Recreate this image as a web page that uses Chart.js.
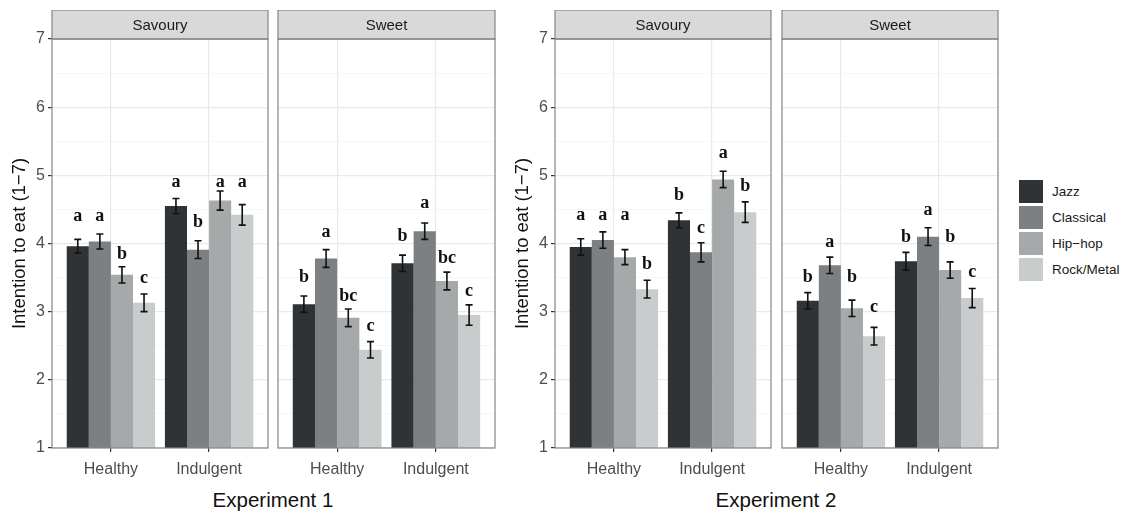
<!DOCTYPE html>
<html>
<head>
<meta charset="utf-8">
<script src="https://cdn.jsdelivr.net/npm/chart.js@4.4.1/dist/chart.umd.min.js"></script>
<style>
  body { margin: 0; background: #fff; width: 1125px; height: 516px; position: relative; overflow: hidden;
         font-family: "Liberation Sans", Arial, sans-serif; }
  canvas { position: absolute; }
  .exp { position: absolute; top: 490px; font-size: 20.5px; line-height: 1; color: #111;
         transform: translateX(-50%); white-space: nowrap; }
  .key { position: absolute; left: 1019px; display: flex; align-items: center; height: 23px; }
  .key span.box { width: 24px; height: 23px; display: inline-block; }
  .key span.txt { margin-left: 9px; font-size: 13.5px; color: #1a1a1a; white-space: nowrap; }
</style>
</head>
<body>
<canvas id="p1"></canvas>
<canvas id="p2"></canvas>
<canvas id="p3"></canvas>
<canvas id="p4"></canvas>
<div class="exp" style="left:273px">Experiment 1</div>
<div class="exp" style="left:776px">Experiment 2</div>
<div id="legend"></div>
<script>
const genres = ['Jazz', 'Classical', 'Hip\u2212hop', 'Rock/Metal'];
const genreColors = ['#2f3335', '#7c8082', '#a6a9aa', '#c8cccc'];
const foodTypes = ['Healthy', 'Indulgent'];
const yTicks = [1, 2, 3, 4, 5, 6, 7];
const yTitle = 'Intention to eat (1\u22127)';

// rows = genre, columns = Healthy / Indulgent
const exp1SavouryMeans = [[3.96, 4.55], [4.03, 3.91], [3.54, 4.63], [3.13, 4.42]];
const exp1SavourySE = [[0.10, 0.11], [0.11, 0.13], [0.12, 0.14], [0.13, 0.15]];
const exp1SavouryLetters = [['a', 'a'], ['a', 'b'], ['b', 'a'], ['c', 'a']];
const exp1SavouryLetterY = [[4.33, 4.83], [4.33, 4.24], [3.77, 4.83], [3.42, 4.83]];

const exp1SweetMeans = [[3.11, 3.71], [3.78, 4.18], [2.91, 3.45], [2.44, 2.95]];
const exp1SweetSE = [[0.12, 0.12], [0.13, 0.12], [0.13, 0.13], [0.12, 0.15]];
const exp1SweetLetters = [['b', 'b'], ['a', 'a'], ['bc', 'bc'], ['c', 'c']];
const exp1SweetLetterY = [[3.44, 4.04], [4.10, 4.52], [3.16, 3.71], [2.72, 3.23]];

const exp2SavouryMeans = [[3.95, 4.34], [4.05, 3.87], [3.80, 4.94], [3.33, 4.46]];
const exp2SavourySE = [[0.12, 0.11], [0.12, 0.14], [0.11, 0.12], [0.13, 0.15]];
const exp2SavouryLetters = [['a', 'b'], ['a', 'c'], ['a', 'a'], ['b', 'b']];
const exp2SavouryLetterY = [[4.34, 4.64], [4.34, 4.15], [4.34, 5.25], [3.63, 4.77]];

const exp2SweetMeans = [[3.16, 3.74], [3.68, 4.10], [3.05, 3.61], [2.64, 3.20]];
const exp2SweetSE = [[0.12, 0.13], [0.12, 0.13], [0.12, 0.12], [0.13, 0.14]];
const exp2SweetLetters = [['b', 'b'], ['a', 'a'], ['b', 'b'], ['c', 'c']];
const exp2SweetLetterY = [[3.44, 4.02], [3.95, 4.42], [3.44, 4.02], [2.99, 3.51]];

const panels = [
  { id: 'p1', strip: 'Savoury', means: exp1SavouryMeans, se: exp1SavourySE, letters: exp1SavouryLetters, letterY: exp1SavouryLetterY, left: 52, right: 268, showY: true },
  { id: 'p2', strip: 'Sweet', means: exp1SweetMeans, se: exp1SweetSE, letters: exp1SweetLetters, letterY: exp1SweetLetterY, left: 278, right: 495, showY: false },
  { id: 'p3', strip: 'Savoury', means: exp2SavouryMeans, se: exp2SavourySE, letters: exp2SavouryLetters, letterY: exp2SavouryLetterY, left: 555, right: 771, showY: true },
  { id: 'p4', strip: 'Sweet', means: exp2SweetMeans, se: exp2SweetSE, letters: exp2SweetLetters, letterY: exp2SweetLetterY, left: 782, right: 998, showY: false }
];

const FONT = '"Liberation Sans", Arial, sans-serif';
const STRIP_H = 29;
const PLOT_TOP = 39, PLOT_BOTTOM = 448;
const XAXIS_H = 37;

// y grid: major at integers, minor halfway between
const yGrid = yTicks.flatMap((v, i) => i ? [v - 0.5, v] : [v]);

const panelDecor = {
  id: 'panelDecor',
  afterDatasetsDraw(chart) {
    const ctx = chart.ctx;
    const y = chart.scales.y;
    chart.data.datasets.forEach((ds, di) => {
      chart.getDatasetMeta(di).data.forEach((bar, i) => {
        const m = ds.data[i], se = ds.se[i];
        const yTop = y.getPixelForValue(m + se);
        const yBot = y.getPixelForValue(m - se);
        ctx.save();
        ctx.strokeStyle = '#111';
        ctx.lineWidth = 1.6;
        ctx.beginPath();
        ctx.moveTo(bar.x, yTop); ctx.lineTo(bar.x, yBot);
        ctx.moveTo(bar.x - 3.5, yTop); ctx.lineTo(bar.x + 3.5, yTop);
        ctx.moveTo(bar.x - 3.5, yBot); ctx.lineTo(bar.x + 3.5, yBot);
        ctx.stroke();
        ctx.fillStyle = '#111';
        ctx.font = 'bold 18px "Liberation Serif", "Times New Roman", serif';
        ctx.textAlign = 'center';
        ctx.textBaseline = 'alphabetic';
        ctx.fillText(ds.letters[i], bar.x, y.getPixelForValue(ds.letterY[i]));
        ctx.restore();
      });
    });
  },
  afterDraw(chart, args, opts) {
    const ctx = chart.ctx;
    const a = chart.chartArea;
    ctx.save();
    ctx.strokeStyle = '#858585';
    ctx.lineWidth = 1.2;
    ctx.fillStyle = '#d9d9d9';
    ctx.fillRect(a.left, a.top - STRIP_H, a.right - a.left, STRIP_H);
    ctx.strokeRect(a.left, a.top - STRIP_H, a.right - a.left, STRIP_H);
    ctx.strokeRect(a.left, a.top, a.right - a.left, a.bottom - a.top);
    ctx.fillStyle = '#1a1a1a';
    ctx.font = '15px ' + FONT;
    ctx.textAlign = 'center';
    ctx.textBaseline = 'middle';
    ctx.fillText(opts.text, (a.left + a.right) / 2, a.top - STRIP_H / 2 + 1);
    ctx.restore();
  }
};

panels.forEach(p => {
  const yw = p.showY ? 52 : 2;
  const canvas = document.getElementById(p.id);
  const cLeft = p.left - yw;
  const cTop = PLOT_TOP - STRIP_H;
  canvas.width = p.right - cLeft + 1;
  canvas.height = STRIP_H + (PLOT_BOTTOM - PLOT_TOP) + XAXIS_H;
  canvas.style.left = cLeft + 'px';
  canvas.style.top = cTop + 'px';

  new Chart(canvas, {
    type: 'bar',
    data: {
      labels: foodTypes.map((_, i) => i + 1),
      datasets: genres.map((g, gi) => ({
        label: g,
        data: p.means[gi],
        se: p.se[gi],
        letters: p.letters[gi],
        letterY: p.letterY[gi],
        backgroundColor: genreColors[gi],
        borderWidth: 0,
        categoryPercentage: 0.9,
        barPercentage: 1.0
      }))
    },
    options: {
      responsive: false,
      animation: false,
      layout: { padding: { top: STRIP_H, right: 1, left: 0, bottom: 0 } },
      plugins: {
        legend: { display: false },
        tooltip: { enabled: false },
        panelDecor: { text: p.strip }
      },
      scales: {
        x: {
          type: 'linear',
          min: 0.4, max: 2.6,
          offset: false,
          afterBuildTicks: s => { s.ticks = foodTypes.map((_, i) => ({ value: i + 1 })); s.min = 0.4; s.max = 2.6; },
          afterFit: s => { s.height = XAXIS_H; },
          border: { display: false },
          grid: { offset: false, color: '#e9e9e9', lineWidth: 1.2, tickColor: '#333', tickLength: 4 },
          ticks: {
            autoSkip: false, maxRotation: 0, padding: 8, color: '#4d4d4d',
            font: { size: 16, family: FONT },
            callback: v => foodTypes[v - 1]
          }
        },
        y: {
          min: 1, max: 7,
          afterBuildTicks: s => { s.ticks = yGrid.map(v => ({ value: v })); s.min = 1; s.max = 7; },
          afterFit: s => { s.width = yw; },
          border: { display: false },
          grid: {
            color: c => Number.isInteger(c.tick.value) ? '#e9e9e9' : '#f4f4f4',
            lineWidth: c => Number.isInteger(c.tick.value) ? 1.2 : 0.8,
            tickColor: c => Number.isInteger(c.tick.value) ? '#333' : 'rgba(0,0,0,0)',
            drawTicks: p.showY,
            tickLength: 4
          },
          ticks: {
            display: p.showY, autoSkip: false, padding: 3, color: '#4d4d4d',
            font: { size: 16, family: FONT },
            callback: v => Number.isInteger(v) ? v : ''
          },
          title: {
            display: p.showY, text: yTitle, color: '#111',
            font: { size: 18.5, family: FONT },
            padding: { top: 9, bottom: 0 }
          }
        }
      }
    },
    plugins: [panelDecor]
  });
});

const legend = document.getElementById('legend');
genres.forEach((g, i) => {
  const row = document.createElement('div');
  row.className = 'key';
  row.style.top = (180 + 26 * i) + 'px';
  row.innerHTML = '<span class="box" style="background:' + genreColors[i] + '"></span><span class="txt">' + g + '</span>';
  legend.appendChild(row);
});
</script>
</body>
</html>
